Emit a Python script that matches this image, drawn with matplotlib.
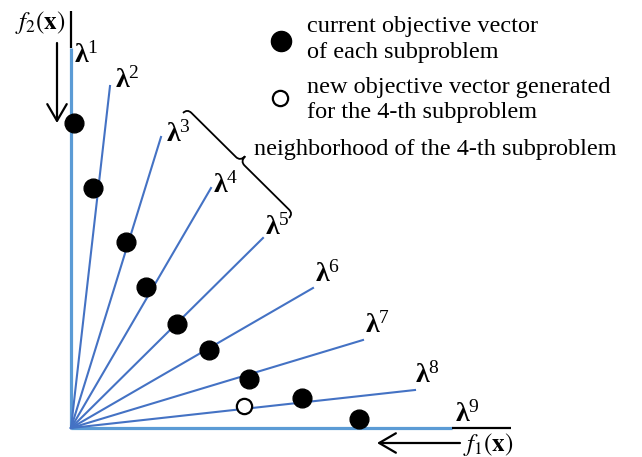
import numpy as np
import matplotlib
matplotlib.use("Agg")
import matplotlib.pyplot as plt
from matplotlib.patches import FancyArrowPatch, PathPatch
from matplotlib.path import Path

plt.rcParams['font.family'] = ['Liberation Serif', 'DejaVu Serif']
plt.rcParams['mathtext.fontset'] = 'custom'
plt.rcParams['mathtext.rm'] = 'Liberation Serif'
plt.rcParams['mathtext.it'] = 'Liberation Serif:italic'
plt.rcParams['mathtext.bf'] = 'Liberation Serif:bold'

# ---- data (coordinates in the objective space) ----
ray_end_x = [39, 90, 140, 192, 242, 292, 344]       # lambda^2 .. lambda^8
ray_end_y = [342, 291, 240, 190, 140, 88, 38]
axis_f2_top = 380        # lambda^1 along f2 axis
axis_f2_ext = 417
axis_f1_right = 381      # lambda^9 along f1 axis
axis_f1_ext = 440

cur_x = [3, 22, 55, 75, 106, 138, 178, 231, 288]
cur_y = [305, 240, 186, 141, 104, 78, 49, 30, 9]
new_x = [173]
new_y = [22]

lab_x = [3, 44, 95, 142, 194, 244, 294, 344, 384]
lab_y = [365, 340, 286, 235, 193, 146, 95, 45, 6]
lab_text = [r'$\mathbf{\lambda}^{\mathrm{%d}}$' % i for i in range(1, 10)]

legend_lines = ["current objective vector", "of each subproblem",
                "new objective vector generated", "for the 4-th subproblem"]
neigh_text = "neighborhood of the 4-th subproblem"

W, H = 642, 457
fig = plt.figure(figsize=(W / 100, H / 100), dpi=100)
ax = fig.add_axes([0, 0, 1, 1])
ax.set_xlim(-71, W - 71)
ax.set_ylim(-(H - 428), 428)
ax.axis('off')

ray_c = '#4472C4'
axis_c = '#5B9BD5'

# axes
ax.plot([0, 0], [0, axis_f2_top], color=axis_c, lw=2.3, solid_capstyle='butt', zorder=2)
ax.plot([0, 0], [axis_f2_top, axis_f2_ext], color='black', lw=1.6, solid_capstyle='butt', zorder=2)
ax.plot([0, axis_f1_right], [0, 0], color=axis_c, lw=2.3, solid_capstyle='butt', zorder=2)
ax.plot([axis_f1_right, axis_f1_ext], [0, 0], color='black', lw=1.6, solid_capstyle='butt', zorder=2)

# rays
for ex, ey in zip(ray_end_x, ray_end_y):
    ax.plot([0, ex], [0, ey], color=ray_c, lw=1.5, zorder=2)

# points
ax.plot(cur_x, cur_y, 'o', color='black', ms=13.5, zorder=4)
ax.plot(new_x, new_y, 'o', mfc='white', mec='black', ms=11, mew=1.6, zorder=4)

# lambda labels
for x, y, t in zip(lab_x, lab_y, lab_text):
    ax.text(x, y, t, fontsize=20, ha='left', va='baseline', zorder=5)

# arrows along the axes
for (x0, y0), (x1, y1) in [((-14, 385), (-14, 305)), ((389, -15), (306, -15))]:
    ax.add_patch(FancyArrowPatch((x0, y0), (x1, y1),
                                 arrowstyle='->,head_length=0.6,head_width=0.35',
                                 mutation_scale=20, lw=1.6, color='black',
                                 shrinkA=0, shrinkB=0))
ax.text(-31, 406, r'$f_2(\mathbf{x})$', fontsize=18, ha='center', va='center',
        math_fontfamily='stix')
ax.text(417, -16, r'$f_1(\mathbf{x})$', fontsize=18, ha='center', va='center',
        math_fontfamily='stix')

# legend
ax.plot([210], [387], 'o', color='black', ms=14.5, zorder=4)
ax.plot([209], [330], 'o', mfc='white', mec='black', ms=11, mew=1.6, zorder=4)
for txt, yb in zip(legend_lines, [396, 370, 335, 310]):
    ax.text(236, yb, txt, fontsize=17.5, ha='left', va='baseline')
ax.text(183, 273, neigh_text, fontsize=17.5, ha='left', va='baseline')

# curly brace between lambda^3 and lambda^5
def brace(p0, p1, h=6.0, hc=13.0, r=6.0):
    p0 = np.array(p0, float); p1 = np.array(p1, float)
    d = p1 - p0
    L = np.hypot(*d)
    u = d / L
    n = np.array([-u[1], u[0]])
    if n[0] + n[1] < 0:
        n = -n
    def P(s, t):
        return p0 + u * s + n * t
    m = L / 2
    verts = [P(0, 0), P(0, h), P(r, h),
             P(m - r, h), P(m, h), P(m, hc),
             P(m, h), P(m + r, h),
             P(L - r, h), P(L, h), P(L, 0)]
    codes = [Path.MOVETO, Path.CURVE3, Path.CURVE3,
             Path.LINETO, Path.CURVE3, Path.CURVE3,
             Path.CURVE3, Path.CURVE3,
             Path.LINETO, Path.CURVE3, Path.CURVE3]
    return Path(verts, codes)

ax.add_patch(PathPatch(brace((112, 315), (218, 210)), fill=False, lw=1.3, color='black'))

fig.savefig('out.png', dpi=100)
